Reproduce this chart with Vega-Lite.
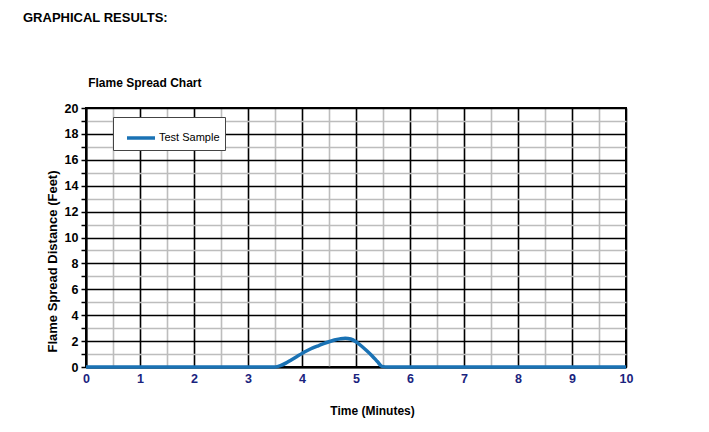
{
  "$schema": "https://vega.github.io/schema/vega-lite/v6.json",
  "autosize": {"type": "none"},
  "width": 540,
  "height": 259,
  "padding": {"left": 86, "top": 108, "right": 83, "bottom": 65},
  "background": "white",
  "config": {
    "font": "Liberation Sans",
    "view": {"stroke": "#000", "strokeWidth": 2}
  },
  "title": {
    "text": "GRAPHICAL RESULTS:",
    "anchor": "start",
    "frame": "group",
    "dx": -63,
    "offset": 42,
    "baseline": "alphabetic",
    "font": "Liberation Sans",
    "fontSize": 13,
    "fontWeight": "bold",
    "color": "#000"
  },
  "datasets": {
    "flame": [
      {"time": 0, "distance": 0, "series": "Test Sample"},
      {"time": 1, "distance": 0, "series": "Test Sample"},
      {"time": 2, "distance": 0, "series": "Test Sample"},
      {"time": 3, "distance": 0, "series": "Test Sample"},
      {"time": 3.35, "distance": 0, "series": "Test Sample"},
      {"time": 3.5, "distance": 0.0, "series": "Test Sample"},
      {"time": 3.6, "distance": 0.1, "series": "Test Sample"},
      {"time": 3.7, "distance": 0.3, "series": "Test Sample"},
      {"time": 3.8, "distance": 0.55, "series": "Test Sample"},
      {"time": 3.9, "distance": 0.8, "series": "Test Sample"},
      {"time": 4.0, "distance": 1.05, "series": "Test Sample"},
      {"time": 4.1, "distance": 1.27, "series": "Test Sample"},
      {"time": 4.2, "distance": 1.47, "series": "Test Sample"},
      {"time": 4.3, "distance": 1.64, "series": "Test Sample"},
      {"time": 4.4, "distance": 1.8, "series": "Test Sample"},
      {"time": 4.5, "distance": 1.95, "series": "Test Sample"},
      {"time": 4.6, "distance": 2.08, "series": "Test Sample"},
      {"time": 4.7, "distance": 2.17, "series": "Test Sample"},
      {"time": 4.8, "distance": 2.22, "series": "Test Sample"},
      {"time": 4.9, "distance": 2.16, "series": "Test Sample"},
      {"time": 5.0, "distance": 1.95, "series": "Test Sample"},
      {"time": 5.1, "distance": 1.62, "series": "Test Sample"},
      {"time": 5.2, "distance": 1.25, "series": "Test Sample"},
      {"time": 5.3, "distance": 0.85, "series": "Test Sample"},
      {"time": 5.4, "distance": 0.4, "series": "Test Sample"},
      {"time": 5.48, "distance": 0.05, "series": "Test Sample"},
      {"time": 5.6, "distance": 0, "series": "Test Sample"},
      {"time": 6, "distance": 0, "series": "Test Sample"},
      {"time": 7, "distance": 0, "series": "Test Sample"},
      {"time": 8, "distance": 0, "series": "Test Sample"},
      {"time": 9, "distance": 0, "series": "Test Sample"},
      {"time": 10, "distance": 0, "series": "Test Sample"}
    ],
    "chartTitle": [{"label": "Flame Spread Chart", "time": 0.04, "distance": 21.65}]
  },
  "encoding": {
    "x": {
      "field": "time",
      "type": "quantitative",
      "scale": {"domain": [0, 10], "nice": false, "zero": false},
      "axis": {
        "title": "Time (Minutes)",
        "titleFont": "Liberation Sans",
        "titleFontSize": 12,
        "titleFontWeight": "bold",
        "titleColor": "#000",
        "titleX": 286,
        "titleY": 43,
        "titleBaseline": "middle",
        "values": [0, 0.5, 1, 1.5, 2, 2.5, 3, 3.5, 4, 4.5, 5, 5.5, 6, 6.5, 7, 7.5, 8, 8.5, 9, 9.5, 10],
        "format": "~g",
        "labelExpr": "datum.value % 1 === 0 ? datum.label : ''",
        "labelFont": "Liberation Sans",
        "labelFontSize": 12.5,
        "labelFontWeight": "bold",
        "labelColor": "#1a237e",
        "labelPadding": 5,
        "labelFlush": false,
        "labelOverlap": false,
        "ticks": false,
        "domain": true,
        "domainColor": "#000",
        "domainWidth": 2,
        "grid": true,
        "gridColor": {"condition": {"test": "datum.value % 1 === 0", "value": "#000"}, "value": "#bdbdbd"},
        "gridWidth": 1.6,
        "gridOpacity": 1
      }
    },
    "y": {
      "field": "distance",
      "type": "quantitative",
      "scale": {"domain": [0, 20], "nice": false},
      "axis": {
        "title": "Flame Spread Distance (Feet)",
        "titleFont": "Liberation Sans",
        "titleFontSize": 13,
        "titleFontWeight": "bold",
        "titleColor": "#000",
        "titleX": -34,
        "titleY": 153,
        "titleBaseline": "middle",
        "values": [0, 1, 2, 3, 4, 5, 6, 7, 8, 9, 10, 11, 12, 13, 14, 15, 16, 17, 18, 19, 20],
        "format": "d",
        "labelExpr": "datum.value % 2 === 0 ? datum.label : ''",
        "labelFont": "Liberation Sans",
        "labelFontSize": 12.5,
        "labelFontWeight": "bold",
        "labelColor": "#000",
        "labelPadding": 3,
        "labelFlush": false,
        "labelOverlap": false,
        "ticks": true,
        "tickSize": 5,
        "tickColor": "#000",
        "tickWidth": 1.5,
        "domain": true,
        "domainColor": "#000",
        "domainWidth": 2,
        "grid": true,
        "gridColor": {"condition": {"test": "datum.value % 2 === 0", "value": "#000"}, "value": "#bdbdbd"},
        "gridWidth": 1.6,
        "gridOpacity": 1
      }
    }
  },
  "layer": [
    {
      "data": {"name": "flame"},
      "mark": {"type": "line", "strokeWidth": 3.5, "interpolate": "monotone"},
      "encoding": {
        "color": {
          "field": "series",
          "type": "nominal",
          "scale": {"range": ["#1a72b4"]},
          "legend": {
            "title": null,
            "orient": "none",
            "legendX": 27,
            "legendY": 9,
            "fillColor": "#fff",
            "strokeColor": "#444",
            "padding": 5,
            "symbolOffset": 7,
            "symbolType": "stroke",
            "symbolStrokeWidth": 3.5,
            "symbolSize": 784,
            "labelFont": "Liberation Sans",
            "labelFontSize": 11,
            "labelColor": "#000",
            "labelOffset": 2,
            "labelExpr": "datum.label + '\u00a0\u00a0'"
          }
        }
      }
    },
    {
      "data": {"name": "chartTitle"},
      "mark": {"type": "text", "align": "left", "baseline": "alphabetic", "font": "Liberation Sans", "fontSize": 12, "fontWeight": "bold", "color": "#000", "clip": false},
      "encoding": {
        "text": {"field": "label"}
      }
    }
  ]
}
